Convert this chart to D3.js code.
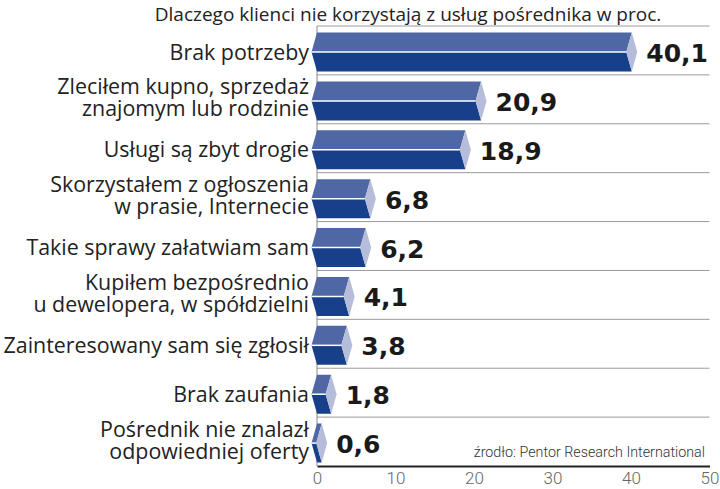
<!DOCTYPE html>
<html>
<head>
<meta charset="utf-8">
<script src="https://cdn.jsdelivr.net/npm/d3@7"></script>
<style>
  body { margin: 0; background: #fff; }
  svg { display: block; }
</style>
</head>
<body>
<div id="chart"></div>
<script>
const title = "Dlaczego klienci nie korzystają z usług pośrednika w proc."
const source = "źrodło: Pentor Research International"

const categories = [
  "Brak potrzeby",
  "Zleciłem kupno, sprzedaż\nznajomym lub rodzinie",
  "Usługi są zbyt drogie",
  "Skorzystałem z ogłoszenia\nw prasie, Internecie",
  "Takie sprawy załatwiam sam",
  "Kupiłem bezpośrednio\nu dewelopera, w spółdzielni",
  "Zainteresowany sam się zgłosił",
  "Brak zaufania",
  "Pośrednik nie znalazł\nodpowiedniej oferty"
]
const values = [40.1, 20.9, 18.9, 6.8, 6.2, 4.1, 3.8, 1.8, 0.6]
const ticks = [0, 10, 20, 30, 40, 50]

const data = categories.map((c, i) => ({cat: c, value: values[i]}))

const W = 720, H = 489
const svg = d3.select("#chart").append("svg")
  .attr("width", W).attr("height", H)

const x = d3.scaleLinear().domain([0, 50]).range([317, 709.5])
const y = d3.scaleBand().domain(categories).range([26, 466]).padding(0)

const notch = 5.5
const barTop = 6.5, barH = 39

// title
svg.append("text")
  .attr("x", 408).attr("y", 20.5)
  .attr("text-anchor", "middle")
  .style("font-family", "Open Sans, sans-serif")
  .style("font-size", "19px")
  .attr("fill", "#222")
  .text(title)

// row separators
svg.append("g").selectAll("line")
  .data(categories)
  .join("line")
  .attr("x1", x(0)).attr("x2", x(50))
  .attr("y1", d => y(d)).attr("y2", d => y(d))
  .attr("stroke", "#9a9a9a").attr("stroke-width", 1)

// vertical axis line
svg.append("line")
  .attr("x1", x(0)).attr("x2", x(0))
  .attr("y1", y.range()[0]).attr("y2", y.range()[1])
  .attr("stroke", "#8a8a8a").attr("stroke-width", 1)

// bars
const bars = svg.append("g").selectAll("g")
  .data(data)
  .join("g")

const geo = d => {
  const yt = y(d.cat) + barTop, yb = yt + barH, ym = yt + barH / 2
  return {x0: x(0), x1: x(d.value), yt, yb, ym}
}

bars.append("path")
  .attr("fill", "#4f67a4")
  .attr("d", d => {
    const g = geo(d)
    return `M${g.x0},${g.yt}L${g.x1},${g.yt}L${g.x1 - notch},${g.ym}L${g.x0 - notch},${g.ym}Z`
  })

bars.append("path")
  .attr("fill", "#173f8a")
  .attr("d", d => {
    const g = geo(d)
    return `M${g.x0 - notch},${g.ym}L${g.x1 - notch},${g.ym}L${g.x1},${g.yb}L${g.x0},${g.yb}Z`
  })

bars.append("path")
  .attr("fill", "#b5bdda")
  .attr("d", d => {
    const g = geo(d)
    return `M${g.x1},${g.yt}L${g.x1 + notch},${g.ym}L${g.x1},${g.yb}L${g.x1 - notch},${g.ym}Z`
  })

bars.append("line")
  .attr("x1", d => geo(d).x0 - notch)
  .attr("x2", d => geo(d).x1 - notch)
  .attr("y1", d => geo(d).ym).attr("y2", d => geo(d).ym)
  .attr("stroke", "#fff").attr("stroke-width", 1.5)

// value labels
bars.append("text")
  .attr("x", d => x(d.value) + notch + 9)
  .attr("y", d => geo(d).ym + 10)
  .style("font-family", "DejaVu Sans, sans-serif")
  .style("font-weight", "bold")
  .style("font-size", "25px")
  .attr("fill", "#1a1a1a")
  .text(d => d3.format(".1f")(d.value).replace(".", ","))

// category labels
const labels = svg.append("g").selectAll("text")
  .data(data)
  .join("text")
  .attr("text-anchor", "end")
  .style("font-family", "Open Sans, sans-serif")
  .style("font-size", "21.4px")
  .attr("fill", "#222")

labels.each(function(d) {
  const lines = d.cat.split("\n")
  const ym = geo(d).ym
  const start = lines.length === 1 ? ym + 7.5 : ym - 6.5
  d3.select(this).selectAll("tspan")
    .data(lines)
    .join("tspan")
    .attr("x", 309)
    .attr("y", (l, i) => start + i * 22)
    .text(l => l)
})

// bottom axis
const xAxis = svg.append("g")
  .attr("transform", `translate(0,${y.range()[1]})`)
  .call(d3.axisBottom(x).tickValues(ticks).tickSize(0).tickPadding(6))

xAxis.select(".domain").attr("stroke", "#222").attr("stroke-width", 2)
xAxis.selectAll("text")
  .style("font-family", "Roboto, sans-serif")
  .style("font-weight", "300")
  .style("font-size", "17px")
  .attr("fill", "#666")

// source
svg.append("text")
  .attr("x", 705).attr("y", 457)
  .attr("text-anchor", "end")
  .style("font-family", "Roboto, sans-serif")
  .style("font-weight", "300")
  .style("font-size", "14.3px")
  .attr("fill", "#333")
  .text(source)
</script>
</body>
</html>
